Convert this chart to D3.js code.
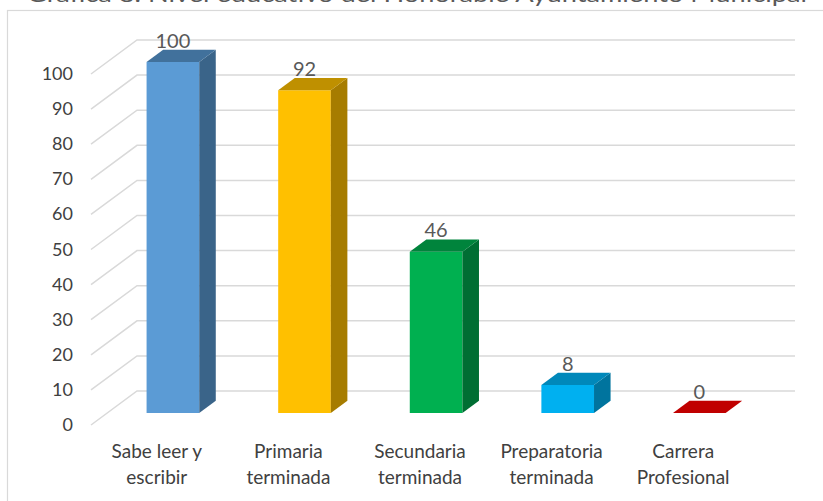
<!DOCTYPE html>
<html><head><meta charset="utf-8">
<script src="https://cdn.jsdelivr.net/npm/d3@7"></script>
<style>body{margin:0;background:#fff}svg{display:block}</style>
</head><body>
<svg id="c" width="823" height="501"></svg>
<script>
const title = "Gráfica 8. Nivel educativo del Honorable Ayuntamiento Municipal";
const categories = [["Sabe leer y","escribir"],["Primaria","terminada"],["Secundaria","terminada"],["Preparatoria","terminada"],["Carrera","Profesional"]];
const values = [100, 92, 46, 8, 0];
const yTicks = [0,10,20,30,40,50,60,70,80,90,100];
const frontColors = ["#5B9BD5","#FFC000","#00B050","#00B0F0","#C00000"];
const topColors = ["#41719C","#BF9000","#00843C","#0088BA","#C00000"];
const sideColors = ["#3A6489","#A67C00","#006E33","#00749E","#8E0000"];

const svg = d3.select("#c");
const font = "Lato, 'Noto Sans', sans-serif";
const DX = 46, DY = -34;           // depth vector
const d0 = 0.35, d1 = 0.71;        // bar depth extent
const x = d3.scaleBand().domain(d3.range(categories.length)).range([91, 749]).paddingInner(0).paddingOuter(0);
const y = d3.scaleLinear().domain([0,100]).range([425, 74]);
const barW = x.bandwidth()*0.40;

// border
svg.append("rect").attr("x",7.5).attr("y",10.5).attr("width",830).attr("height",500)
  .attr("fill","none").attr("stroke","#D9D9D9").attr("stroke-width",1.2);

// title (cut off at top)
svg.append("text").attr("x",417).attr("y",2).attr("text-anchor","middle")
  .attr("font-family",font).attr("font-size",21).attr("fill","#595959")
  .attr("textLength",780).attr("lengthAdjust","spacingAndGlyphs").text(title);

// gridlines: diagonal on left wall + horizontal on back wall
const g = svg.append("g").attr("stroke","#D9D9D9").attr("stroke-width",1.5).attr("fill","none");
yTicks.forEach(t=>{
  const yy = y(t);
  g.append("path").attr("d",`M${x.range()[0]},${yy}L${x.range()[0]+DX},${yy+DY}L${x.range()[1]+DX},${yy+DY}`);
});

// y tick labels
svg.append("g").selectAll("text").data(yTicks).join("text")
  .attr("x",73).attr("y",d=>y(d)+6).attr("text-anchor","end")
  .attr("font-family",font).attr("font-size",18).attr("fill","#404040").text(d=>d);

// bars
const bars = svg.append("g");
values.forEach((v,i)=>{
  const cx = x(i)+x.bandwidth()/2;
  const xl = cx - barW/2 + d0*DX, xr = xl + barW;
  const yb = y(0) + d0*DY, yt = y(v) + d0*DY;
  const ddx = (d1-d0)*DX, ddy = (d1-d0)*DY;
  if (v>0) bars.append("path").attr("d",`M${xl},${yb}L${xr},${yb}L${xr},${yt}L${xl},${yt}Z`).attr("fill",frontColors[i]);
  if (v>0) bars.append("path").attr("d",`M${xr},${yb}L${xr+ddx},${yb+ddy}L${xr+ddx},${yt+ddy}L${xr},${yt}Z`).attr("fill",sideColors[i]);
  bars.append("path").attr("d",`M${xl},${yt}L${xr},${yt}L${xr+ddx},${yt+ddy}L${xl+ddx},${yt+ddy}Z`).attr("fill",topColors[i]);
  bars.append("text").attr("x",(xl+xr)/2).attr("y",y(v)+d1*DY-2)
    .attr("text-anchor","middle").attr("font-family",font).attr("font-size",20).attr("fill","#595959").text(v);
});

// category labels
const cl = svg.append("g");
categories.forEach((c,i)=>{
  const cx = x(i)+x.bandwidth()/2;
  c.forEach((line,j)=>{
    cl.append("text").attr("x",cx).attr("y",458+j*26).attr("text-anchor","middle")
      .attr("font-family",font).attr("font-size",19).attr("fill","#404040").text(line);
  });
});
</script>
</body></html>
